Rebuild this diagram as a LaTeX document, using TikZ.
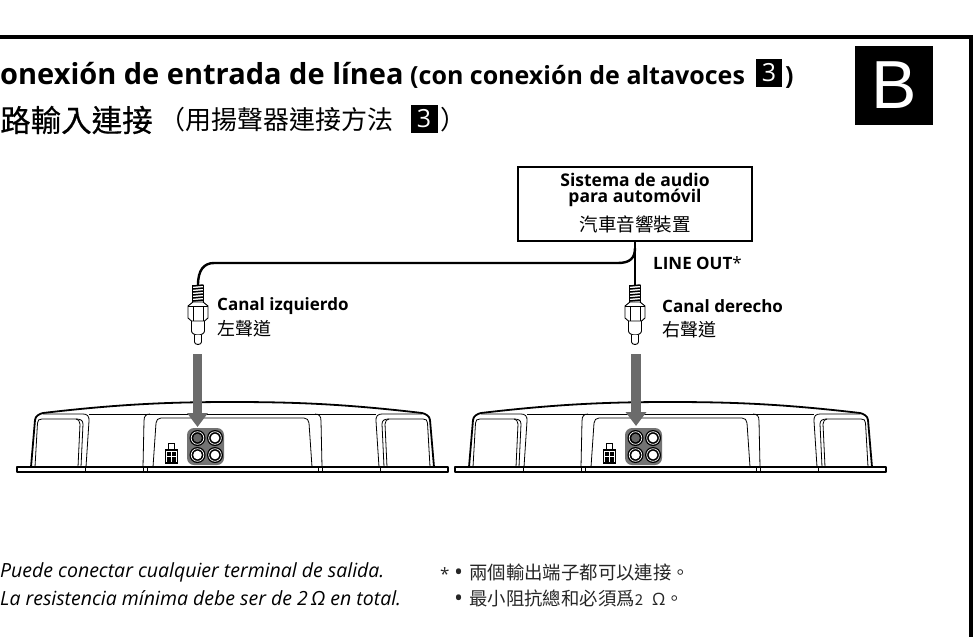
\documentclass[tikz,border=0pt]{standalone}
\usepackage{fontspec}
\usepackage{tikz}
\usetikzlibrary{arrows.meta}
\setmainfont{Open Sans}
\newfontfamily\cjk{Noto Sans CJK TC}
\newfontfamily\cjkheavy[FakeBold=0.5]{Noto Sans CJK TC}
\newfontfamily\lib{Liberation Sans}
\newcommand{\numbox}[3]{node[fill=black,text=white,inner sep=0pt,minimum width=#1,minimum height=#2,font=#3]{3}}
\newcommand{\notedot}{\raisebox{-1.5pt}{\normalfont\fontsize{24}{24}\selectfont •}\hspace{6pt}}
\newcommand{\plug}[1]{
  \foreach \y in {286,289,...,301}{\draw[line width=1.5pt,line cap=round] (#1-5,\y) -- (#1+5,\y-1);}
  \draw[plugline] (#1-5.5,285) -- (#1-5.5,302) (#1+5.5,285) -- (#1+5.5,302);
  \draw[plugline] (#1-5,302) -- (#1+5,302) -- (#1+10,306) -- (#1+10,318) -- (#1+6.5,321) -- (#1-6.5,321) -- (#1-10,318) -- (#1-10,306) -- cycle;
  \draw[plugline] (#1-5,306) -- (#1-5,321) (#1+5,306) -- (#1+5,321) (#1-10,306) -- (#1+10,306);
  \draw[plugline] (#1-6.5,321) -- (#1-6.5,331) arc (180:0:6.5 and 4) -- (#1+6.5,321);
  \draw[plugline,fill=white] (#1-3.5,335) -- (#1-3.5,342) arc (180:0:3.5 and 2.5) -- (#1+3.5,335);
}
\newcommand{\jack}[3]{
  \fill (#1,#2) circle (8);
  \draw[white,line width=.7pt] (#1,#2) circle (6.3);
  \fill[#3] (#1,#2) circle (4.3);
}
\tikzset{
  plugline/.style={line width=.9pt,line join=round},
  thinline/.style={line width=.8pt},
  bodyline/.style={line width=1.8pt,line join=round},
  cable/.style={line width=2.4pt},
  feedarrow/.style={draw=black!58,line width=9.5pt,-{Triangle[length=14pt,width=20pt,fill=black!58]}},
  sidelabel/.style={anchor=west,inner sep=0pt,font=\bfseries\fontsize{17}{19}\selectfont},
  cjklabel/.style={anchor=west,inner sep=0pt,font=\cjk\fontsize{18}{20}\selectfont},
  notelabel/.style={anchor=west,inner sep=0pt,font=\itshape\fontsize{19.5}{21}\selectfont},
  cjknote/.style={anchor=west,inner sep=0pt,font=\cjk\fontsize{18.4}{20}\selectfont,text=black!85},
}
\begin{document}
\begin{tikzpicture}[x=1pt,y=-1pt]
  \useasboundingbox (0,0) rectangle (973,637);
  % frame
  \fill (0,35) rectangle (973,39);
  \fill (969,35) rectangle (973,637);
  % headings
  \node[anchor=base west,inner sep=0pt,font=\bfseries\fontsize{29}{31}\selectfont] (titlees) at (0,84) {onexión de entrada de línea};
  \node[anchor=base west,inner sep=0pt,font=\bfseries\fontsize{25}{27}\selectfont] (subes) at (410,84) {(con conexión de altavoces};
  \draw (769,73) \numbox{26pt}{28pt}{\fontsize{25}{26}\selectfont};
  \node[anchor=base west,inner sep=0pt,font=\bfseries\fontsize{25}{27}\selectfont] (closees) at (785,84) {)};
  \node[anchor=west,inner sep=0pt,font=\cjkheavy\fontsize{30.5}{33}\selectfont] (titlezh) at (0,120) {路輸入連接};
  \node[anchor=west,inner sep=0pt,font=\cjk\fontsize{26}{28}\selectfont] (subzh) at (159.5,120) {（用揚聲器連接方法};
  \draw (424,119) \numbox{27pt}{28pt}{\fontsize{25}{26}\selectfont};
  \node[anchor=west,inner sep=0pt,font=\cjk\fontsize{26}{28}\selectfont] (closezh) at (440,120) {）};
  \node[fill=black,text=white,inner sep=0pt,minimum width=78pt,minimum height=79pt,font=\lib\fontsize{68}{70}\selectfont] (letter) at (894,85.5) {B};
  % audio system
  \node[draw,line width=2.4pt,minimum width=234pt,minimum height=74pt,inner sep=0pt] (audio) at (635,204) {};
  \node[font=\bfseries\fontsize{17.5}{19}\selectfont,inner sep=0pt] (audioa) at (635,180) {Sistema de audio};
  \node[font=\bfseries\fontsize{17.5}{19}\selectfont,inner sep=0pt] (audiob) at (635,198) {para automóvil};
  \node[font=\cjk\fontsize{18.5}{20}\selectfont,inner sep=0pt] (audiozh) at (635,224) {汽車音響裝置};
  % plugs and cable
  \coordinate (plugl) at (198,285);
  \coordinate (plugr) at (635,285);
  \draw[cable] (audio.south -| plugr) -- (plugr);
  \draw[cable] (plugr |- 0,248) .. controls (635,258) and (630,263) .. (618,263) -- (214,263) .. controls (204,263) and (198,270) .. (plugl);
  \plug{198}
  \plug{635}
  \node[sidelabel] (lineout) at (653,263) {LINE OUT\textmd{*}};
  \node[sidelabel] (left) at (217,306) {Canal izquierdo};
  \node[cjklabel] (leftzh) at (217,329) {左聲道};
  \node[sidelabel] (right) at (662,306) {Canal derecho};
  \node[cjklabel] (rightzh) at (662,330) {右聲道};
  % amplifiers
  \foreach \ox in {0,438}{
    \begin{scope}[xshift=\ox]
      \draw[bodyline] (17,467) rectangle (448,472);
      \draw[bodyline] (31,467) -- (35,420) .. controls (35.5,416) and (39,414) .. (43,413) .. controls (120,404) and (170,402) .. (232,402) .. controls (295,402) and (345,404) .. (422,413) .. controls (426,414) and (429.5,416) .. (430,420) -- (434,467);
      \draw[thinline] (35,467) -- (37.5,423) .. controls (37.7,420) and (39,419) .. (42,419) -- (76,419) .. controls (80,419) and (83,420) .. (83,424) -- (81,467);
      \draw[thinline] (78,467) -- (80,424) .. controls (80,421) and (78,419) .. (76,419);
      \draw[thinline] (430,467) -- (427.5,423) .. controls (427.3,420) and (426,419) .. (423,419) -- (389,419) .. controls (385,419) and (382,420) .. (382,424) -- (384,467);
      \draw[thinline] (387,467) -- (385,424) .. controls (385,421) and (387,419) .. (389,419);
      \draw[thinline] (43,414) -- (83,414) .. controls (87,414) and (89.5,416) .. (89,421) -- (86,467);
      \draw[thinline] (422,414) -- (382,414) .. controls (378,414) and (375.5,416) .. (376,421) -- (379,467);
      \draw[thinline] (89,414) -- (376,414);
      \draw[thinline] (143,467) -- (144,421) .. controls (144,416) and (146,414) .. (150,414) (322,467) -- (321,421) .. controls (321,416) and (319,414) .. (315,414);
      \draw[thinline] (153,467) -- (156,423) .. controls (156.3,420) and (158,418) .. (161,418) -- (304,418) .. controls (307,418) and (308.7,420) .. (309,423) -- (312,467);
      \draw[thinline] (85,467) -- (85,472) (143,467) -- (143,472) (147,467) -- (147,472) (318,467) -- (318,472) (322,467) -- (322,472) (380,467) -- (380,472);
      % terminal
      \draw[thinline] (168.5,443.5) rectangle (174,450);
      \draw[line width=1.2pt] (165.5,450) rectangle (177.5,463);
      \fill (167,452) rectangle (176,461.5);
      \draw[white,line width=.6pt] (171.5,452) -- (171.5,461.5) (167,456.5) -- (176,456.5);
      % jacks
      \fill[black!55,rounded corners=7pt] (187,428) rectangle (224,465);
      \jack{197.5}{438}{black!60}
      \jack{215}{438}{white}
      \jack{197.5}{455}{white}
      \jack{215}{455}{white}
    \end{scope}
  }
  % arrows
  \coordinate (arrowla) at (197.5,354);
  \coordinate (arrowlb) at (197.5,427);
  \coordinate (arrowra) at (636,354);
  \coordinate (arrowrb) at (636,426);
  \draw[feedarrow] (arrowla) -- (arrowlb);
  \draw[feedarrow] (arrowra) -- (arrowrb);
  % notes
  \node[notelabel] (notea) at (0,572) {Puede conectar cualquier terminal de salida.};
  \node[notelabel] (noteb) at (0,598) {La resistencia mínima debe ser de 2\,Ω en total.};
  \node[anchor=west,inner sep=0pt,font=\fontsize{17}{19}\selectfont,text=black!85] (star) at (440,574) {*};
  \node[cjknote] (noteza) at (454,572) {\notedot 兩個輸出端子都可以連接。};
  \node[cjknote] (notezb) at (454,598) {\notedot 最小阻抗總和必須爲{\fontsize{15}{16}\selectfont 2}\hspace{9pt}{\fontsize{17}{16}\selectfont\normalfont Ω}。};
\end{tikzpicture}
\end{document}
